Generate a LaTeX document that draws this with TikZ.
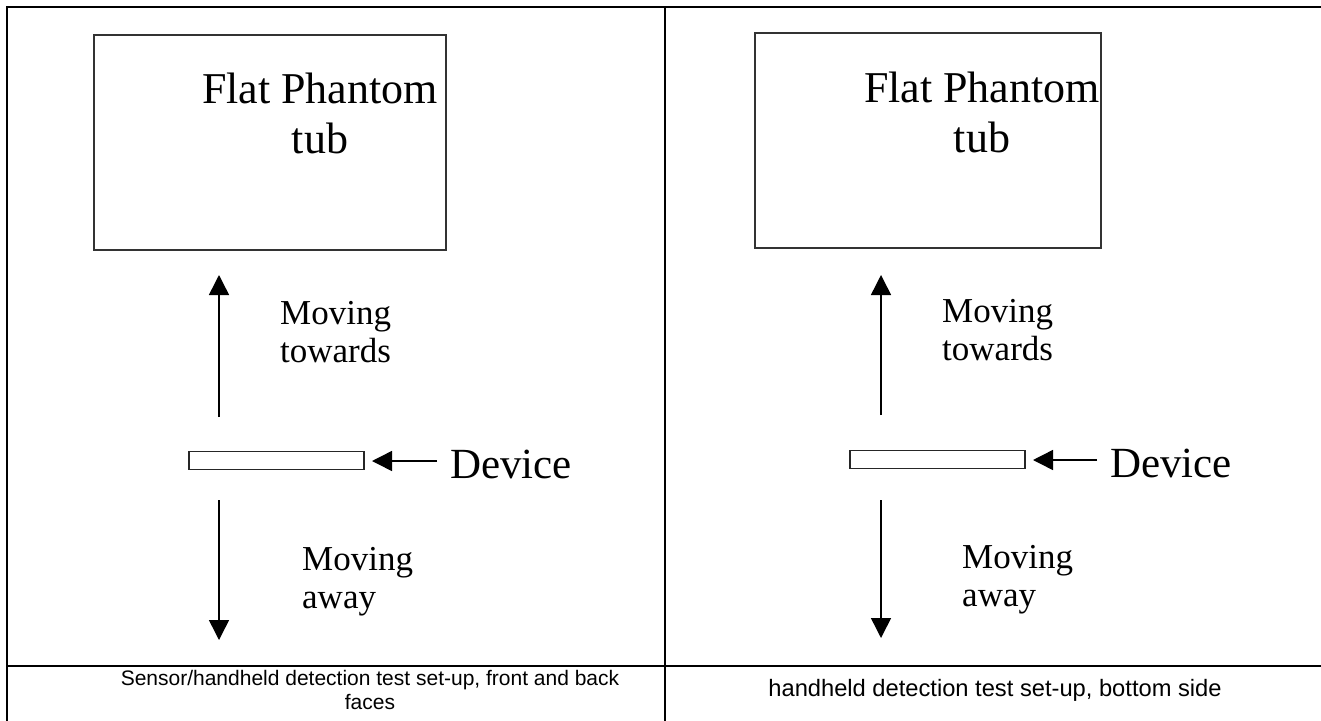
\documentclass[tikz,border=0pt]{standalone}
\usepackage{fontspec}
\setmainfont{Liberation Serif}
\newfontfamily\capfont{Liberation Sans}
\usetikzlibrary{arrows.meta}
\begin{document}
\begin{tikzpicture}[x=1pt,y=-1pt,
  rule/.style={line width=2.6pt, black},
  tubbox/.style={draw=black!80, line width=1.6pt, rectangle, inner sep=0pt},
  devbox/.style={draw=black!85, line width=1.5pt, rectangle, inner sep=0pt, minimum width=175pt, minimum height=18pt},
  arr/.style={line width=1.5pt, -{Triangle[length=20pt,width=20pt]}},
  big/.style={font=\fontsize{44}{50}\selectfont, align=center, inner sep=0pt, anchor=base},
  mid/.style={font=\fontsize{35}{38}\selectfont, align=left, inner sep=0pt, anchor=base west},
  devtext/.style={font=\fontsize{43}{48}\selectfont, inner sep=0pt, anchor=base west},
  captext/.style={font=\capfont\fontsize{21}{24}\selectfont, align=center, inner sep=0pt, anchor=base}]
\useasboundingbox (0,0) rectangle (1321,720);
\clip (0,0) rectangle (1321,720);
% table rules
\draw[rule] (7,730) -- (7,7) -- (1340,7);
\draw[rule] (665,7) -- (665,730);
\draw[rule] (7,666) -- (1340,666);

% ---------- left panel ----------
\node[tubbox, minimum width=352pt, minimum height=215pt] (tubL) at (270,142.5) {};
\node[big] (tubLtxt) at (320,153) {Flat Phantom\\tub};
\node[devbox] (devL) at (276.5,460.5) {};
\node[devtext] (devLtxt) at (450,478) {Device};
\coordinate (devLtail) at (437,461);
\coordinate (devLtip) at (372,461);
\draw[arr] (devLtail) -- (devLtip);
\coordinate (upL0) at (219,417);
\coordinate (upL1) at (219,275);
\draw[arr] (upL0) -- (upL1);
\node[mid] (towL) at (280,362) {Moving\\towards};
\coordinate (dnL0) at (219,500);
\coordinate (dnL1) at (219,640);
\draw[arr] (dnL0) -- (dnL1);
\node[mid] (awayL) at (302,608) {Moving\\away};
\node[captext] (capL) at (370,709) {Sensor/handheld detection test set-up, front and back\\faces};

% ---------- right panel ----------
\node[tubbox, minimum width=346pt, minimum height=215pt] (tubR) at (928,140.5) {};
\node[big] (tubRtxt) at (982,152) {Flat Phantom\\tub};
\node[devbox] (devR) at (937.5,459.5) {};
\node[devtext] (devRtxt) at (1110,477) {Device};
\coordinate (devRtail) at (1097,460);
\coordinate (devRtip) at (1033,460);
\draw[arr] (devRtail) -- (devRtip);
\coordinate (upR0) at (881,415);
\coordinate (upR1) at (881,275);
\draw[arr] (upR0) -- (upR1);
\node[mid] (towR) at (942,360) {Moving\\towards};
\coordinate (dnR0) at (881,500);
\coordinate (dnR1) at (881,638);
\draw[arr] (dnR0) -- (dnR1);
\node[mid] (awayR) at (962,606) {Moving\\away};
\node[captext, font=\capfont\fontsize{23.7}{26}\selectfont] (capR) at (995,696) {handheld detection test set-up, bottom side};
\end{tikzpicture}
\end{document}
